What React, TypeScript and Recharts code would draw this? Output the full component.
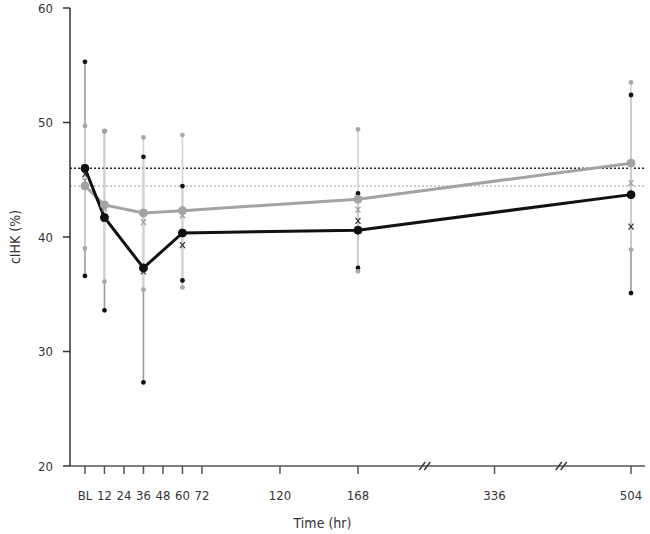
import React from 'react';
import {
  ComposedChart,
  Line,
  Scatter,
  XAxis,
  YAxis,
  ErrorBar,
  ReferenceLine,
  ReferenceDot,
} from 'recharts';

// ---- data ----
const timesHr = [0, 12, 36, 60, 168, 504];
const blackMean = [46.0, 41.7, 37.3, 40.35, 40.6, 43.7];
const blackHigh = [55.3, 49.25, 47.0, 44.45, 43.8, 52.4];
const blackLow = [36.6, 33.6, 27.3, 36.2, 37.3, 35.1];
const blackMedian = [45.5, 41.6, 37.0, 39.3, 41.4, 40.9];
const grayMean = [44.45, 42.8, 42.1, 42.3, 43.3, 46.45];
const grayHigh = [49.7, 49.25, 48.7, 48.9, 49.4, 53.5];
const grayLow = [39.0, 36.1, 35.4, 35.6, 37.0, 38.9];
const grayMedian = [44.9, 42.5, 41.3, 41.9, 42.4, 44.7];
const blackBaseline = 46.0;
const grayBaseline = 44.45;
const tickHours = [0, 12, 24, 36, 48, 60, 72, 120, 168, 336, 504];
const tickNames = ['BL', '12', '24', '36', '48', '60', '72', '120', '168', '336', '504'];
const yTicks = [20, 30, 40, 50, 60];

// ---- broken time axis: after 168 h the scale is compressed ----
const BREAK_AT = 168;
const COMPRESS = 0.5;
const axisPos = (t: number) => (t <= BREAK_AT ? t : BREAK_AT + (t - BREAK_AT) * COMPRESS);
const breakPositions = [
  (axisPos(168) + axisPos(336)) / 2,
  (axisPos(336) + axisPos(504)) / 2,
];

const data = timesHr.map((t, i) => ({
  pos: axisPos(t),
  black: blackMean[i],
  blackErr: [blackMean[i] - blackLow[i], blackHigh[i] - blackMean[i]],
  blackHigh: blackHigh[i],
  blackLow: blackLow[i],
  blackMedian: blackMedian[i],
  gray: grayMean[i],
  grayErr: [grayMean[i] - grayLow[i], grayHigh[i] - grayMean[i]],
  grayHigh: grayHigh[i],
  grayLow: grayLow[i],
  grayMedian: grayMedian[i],
}));

const tickPos = tickHours.map(axisPos);
const tickLabel = (v: number) => {
  const idx = tickPos.findIndex((p) => Math.abs(p - v) < 1e-6);
  return idx >= 0 ? tickNames[idx] : '';
};

const FONT = "'DejaVu Sans Condensed', 'Liberation Sans Narrow', 'DejaVu Sans', sans-serif";

const Empty = () => <g />;
const makeDot = (fill: string, r: number) => (p: any) =>
  p.cx == null ? <g /> : <circle cx={p.cx} cy={p.cy} r={r} fill={fill} />;
const makeX = (stroke: string) => (p: any) =>
  p.cx == null ? (
    <g />
  ) : (
    <g stroke={stroke} strokeWidth={1.2}>
      <line x1={p.cx - 2.5} y1={p.cy - 3} x2={p.cx + 2.5} y2={p.cy + 3} />
      <line x1={p.cx + 2.5} y1={p.cy - 3} x2={p.cx - 2.5} y2={p.cy + 3} />
    </g>
  );
const BreakMark = (p: any) =>
  p.cx == null ? (
    <g />
  ) : (
    <g stroke="#333" strokeWidth={1.4}>
      <line x1={p.cx - 7} y1={p.cy + 4} x2={p.cx - 1} y2={p.cy - 4} />
      <line x1={p.cx - 2} y1={p.cy + 4} x2={p.cx + 4} y2={p.cy - 4} />
    </g>
  );

export default function App() {
  return (
    <div style={{ position: 'absolute', left: 0, top: 0, fontFamily: FONT }}>
      <ComposedChart
        width={650}
        height={534}
        data={data}
        margin={{ top: 8, right: 5, bottom: 28, left: 0 }}
      >
        <XAxis
          dataKey="pos"
          type="number"
          domain={[-9.2, 344.6]}
          ticks={tickPos}
          tickFormatter={tickLabel}
          interval={0}
          allowDataOverflow
          height={40}
          tickSize={8}
          tickMargin={17}
          stroke="#555"
          strokeWidth={1.5}
          tick={{ fill: '#333', fontSize: 13, fontFamily: FONT }}
          label={{
            value: 'Time (hr)',
            position: 'insideBottom',
            offset: -22,
            dx: -35,
            fill: '#333',
            fontSize: 14,
            fontFamily: FONT,
          }}
        />
        <YAxis
          type="number"
          domain={[20, 60]}
          ticks={yTicks}
          allowDataOverflow
          width={70}
          tickSize={7}
          tickMargin={10}
          stroke="#333"
          strokeWidth={1.5}
          tick={{ fill: '#333', fontSize: 13, fontFamily: FONT }}
          label={{
            value: 'cIHK (%)',
            angle: -90,
            position: 'center',
            dx: -20,
            fill: '#333',
            fontSize: 14,
            fontFamily: FONT,
          }}
        />
        <ReferenceLine y={blackBaseline} stroke="#222" strokeWidth={1.5} strokeDasharray="2 2" />
        <ReferenceLine y={grayBaseline} stroke="#bbb" strokeWidth={1.5} strokeDasharray="2 2" />

        <Scatter dataKey="black" shape={Empty} isAnimationActive={false}>
          <ErrorBar dataKey="blackErr" direction="y" width={0} stroke="#9a9a9a" strokeWidth={1.6} />
        </Scatter>
        <Scatter dataKey="gray" shape={Empty} isAnimationActive={false}>
          <ErrorBar dataKey="grayErr" direction="y" width={0} stroke="#d3d3d3" strokeWidth={1.6} />
        </Scatter>
        <Scatter dataKey="blackHigh" shape={makeDot('#111', 2.4)} isAnimationActive={false} />
        <Scatter dataKey="blackLow" shape={makeDot('#111', 2.4)} isAnimationActive={false} />
        <Scatter dataKey="grayHigh" shape={makeDot('#a8a8a8', 2.4)} isAnimationActive={false} />
        <Scatter dataKey="grayLow" shape={makeDot('#a8a8a8', 2.4)} isAnimationActive={false} />
        <Scatter dataKey="grayMedian" shape={makeX('#9a9a9a')} isAnimationActive={false} />
        <Scatter dataKey="blackMedian" shape={makeX('#333')} isAnimationActive={false} />

        <Line
          dataKey="gray"
          stroke="#a3a3a3"
          strokeWidth={3}
          dot={{ r: 4, fill: '#a3a3a3', stroke: '#a3a3a3', strokeWidth: 1 }}
          isAnimationActive={false}
        />
        <Line
          dataKey="black"
          stroke="#111"
          strokeWidth={3}
          dot={{ r: 4, fill: '#111', stroke: '#111', strokeWidth: 1 }}
          isAnimationActive={false}
        />
        {breakPositions.map((b) => (
          <ReferenceDot key={b} x={b} y={20} r={0} shape={BreakMark} ifOverflow="visible" />
        ))}
      </ComposedChart>
    </div>
  );
}
